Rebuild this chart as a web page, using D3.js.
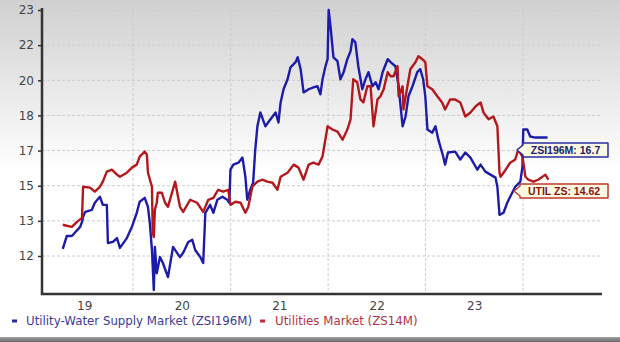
<!DOCTYPE html>
<html><head><meta charset="utf-8">
<script src="https://cdn.jsdelivr.net/npm/d3@7"></script>
<style>html,body{margin:0;padding:0;background:#fff;}svg{display:block;}</style>
</head><body>
<svg id="c" width="620" height="342"></svg>
<script>
const yTickValues = [12, 13, 15, 17, 18, 20, 22, 23];
const xTickYears = [2019, 2020, 2021, 2022, 2023];
const gridYears = [2020, 2021, 2022, 2023, 2024];
const seriesNames = ["Utility-Water Supply Market (ZSI196M)", "Utilities Market (ZS14M)"];
const callouts = ["ZSI196M: 16.7", "UTIL ZS: 14.62"];

const blueDates = ["2019-04-13","2019-04-28","2019-05-17","2019-05-28","2019-06-17","2019-06-24","2019-06-28","2019-07-06","2019-07-31","2019-08-11","2019-08-30","2019-09-10","2019-09-25","2019-09-29","2019-10-18","2019-11-02","2019-11-13","2019-12-09","2019-12-28","2020-01-15","2020-01-26","2020-02-14","2020-02-26","2020-03-04","2020-03-12","2020-03-19","2020-03-23","2020-03-30","2020-04-11","2020-04-22","2020-05-11","2020-05-30","2020-06-14","2020-06-25","2020-07-07","2020-07-26","2020-08-10","2020-08-21","2020-09-09","2020-09-20","2020-09-28","2020-10-16","2020-10-28","2020-11-12","2020-12-01","2020-12-19","2020-12-27","2020-12-31","2021-01-11","2021-01-30","2021-02-14","2021-02-25","2021-03-04","2021-03-15","2021-03-26","2021-04-03","2021-04-11","2021-04-22","2021-05-11","2021-05-30","2021-06-18","2021-06-29","2021-07-07","2021-07-18","2021-08-02","2021-08-13","2021-09-01","2021-09-09","2021-09-20","2021-10-01","2021-10-20","2021-11-07","2021-11-22","2021-12-03","2021-12-11","2021-12-22","2021-12-30","2022-01-03","2022-01-10","2022-01-21","2022-02-05","2022-02-16","2022-02-28","2022-03-14","2022-03-26","2022-04-02","2022-04-13","2022-04-24","2022-05-09","2022-05-21","2022-06-01","2022-06-16","2022-06-28","2022-07-09","2022-07-24","2022-08-12","2022-08-23","2022-09-10","2022-09-22","2022-10-07","2022-10-18","2022-10-29","2022-11-13","2022-12-01","2022-12-12","2022-12-23","2022-12-31","2023-01-08","2023-01-26","2023-02-07","2023-02-18","2023-03-08","2023-03-15","2023-03-26","2023-04-22","2023-05-11","2023-05-30","2023-06-18","2023-07-14","2023-07-26","2023-08-13","2023-09-01","2023-09-20","2023-09-27","2023-10-05","2023-10-20","2023-11-03","2023-11-14","2023-12-03","2023-12-22","2023-12-30","2024-01-02","2024-01-17","2024-01-28","2024-02-16","2024-04-02"];
const blueValues = [12.20,12.57,12.57,12.66,12.83,12.97,13.23,13.51,13.63,14.03,14.37,13.91,13.91,12.37,12.40,12.51,12.23,12.51,12.83,13.46,14.09,14.31,13.80,12.94,12.17,11.03,12.26,11.51,11.97,11.80,11.40,12.26,12.09,11.97,12.09,12.40,12.46,12.17,11.97,11.80,13.46,13.91,13.46,14.20,14.37,14.20,14.03,15.91,16.20,16.31,16.60,15.51,14.20,14.77,15.17,17.03,17.69,18.17,17.69,17.89,18.17,17.80,18.74,19.49,20.06,20.74,21.03,21.31,20.63,19.31,19.49,19.60,19.66,19.20,20.06,20.80,21.20,23.00,22.53,21.31,21.09,20.06,20.46,21.20,21.66,22.17,22.08,20.80,19.49,20.06,20.46,19.66,19.89,19.49,20.46,21.20,21.03,20.80,19.66,17.69,17.97,19.09,19.66,20.46,20.63,20.06,19.09,17.60,17.51,17.69,17.31,16.66,16.20,16.89,16.94,16.49,16.89,16.60,15.91,16.20,15.80,15.63,15.46,14.94,13.34,13.46,14.03,14.37,14.94,15.23,16.09,17.60,17.60,17.40,17.37,17.37];

const redDates = ["2019-04-13","2019-04-28","2019-05-17","2019-06-05","2019-06-24","2019-06-28","2019-07-24","2019-08-11","2019-08-30","2019-09-10","2019-09-25","2019-10-14","2019-11-02","2019-11-13","2019-12-09","2019-12-28","2020-01-15","2020-01-26","2020-02-14","2020-02-22","2020-02-26","2020-03-12","2020-03-15","2020-03-19","2020-03-23","2020-03-30","2020-04-03","2020-04-18","2020-04-30","2020-05-11","2020-06-07","2020-06-25","2020-07-07","2020-08-02","2020-08-28","2020-09-20","2020-10-09","2020-10-28","2020-11-15","2020-12-04","2020-12-23","2020-12-31","2021-01-19","2021-02-07","2021-02-25","2021-03-08","2021-03-23","2021-04-11","2021-04-29","2021-05-18","2021-06-07","2021-06-25","2021-07-07","2021-08-02","2021-08-25","2021-09-12","2021-10-01","2021-10-20","2021-11-07","2021-11-26","2021-12-11","2021-12-30","2022-01-17","2022-02-05","2022-02-24","2022-03-14","2022-03-26","2022-04-05","2022-04-20","2022-05-02","2022-05-13","2022-05-28","2022-06-09","2022-06-20","2022-07-05","2022-07-16","2022-07-28","2022-08-12","2022-08-23","2022-09-03","2022-09-18","2022-09-22","2022-10-07","2022-10-10","2022-10-25","2022-11-05","2022-11-24","2022-12-05","2022-12-20","2022-12-31","2023-01-08","2023-01-26","2023-02-14","2023-03-04","2023-03-15","2023-04-03","2023-04-22","2023-05-11","2023-05-30","2023-06-18","2023-07-07","2023-07-26","2023-08-06","2023-08-25","2023-09-12","2023-09-27","2023-10-05","2023-10-09","2023-10-28","2023-11-14","2023-12-03","2023-12-14","2023-12-30","2024-01-10","2024-01-21","2024-02-09","2024-02-27","2024-03-25","2024-04-05"];
const redValues = [12.89,12.86,12.83,12.97,13.17,14.94,14.89,14.66,14.94,15.23,15.80,15.91,15.63,15.51,15.74,16.03,16.20,16.66,16.94,16.77,15.74,14.94,12.66,12.54,13.63,14.03,14.60,14.60,14.03,13.80,15.23,13.80,13.51,14.20,14.03,13.51,14.20,14.31,14.77,14.66,14.77,13.91,14.09,14.03,13.46,13.80,14.94,15.23,15.34,15.23,15.17,14.77,15.51,15.74,16.20,16.03,15.34,16.20,16.31,16.20,16.66,17.69,17.60,17.54,17.31,17.60,17.89,20.06,19.89,18.91,18.74,19.66,19.66,17.69,18.91,19.09,19.49,20.46,20.23,20.23,20.80,19.09,19.66,18.34,19.66,20.63,21.03,21.37,21.20,21.03,19.66,19.49,19.09,18.74,18.34,18.91,18.91,18.74,17.97,18.17,18.51,18.74,18.17,17.89,17.97,17.69,15.74,15.51,15.91,16.31,16.49,17.03,16.66,15.51,15.34,15.23,15.34,15.63,15.34];

(function draw() {
const W = 620, H = 342;
const svg = d3.select("#c");
const parse = d3.timeParse("%Y-%m-%d");

const defs = svg.append("defs");
const bg = defs.append("linearGradient").attr("id","bg").attr("x1",0).attr("y1",0).attr("x2",0).attr("y2",1);
bg.append("stop").attr("offset","0%").attr("stop-color","#d0d0d0");
bg.append("stop").attr("offset","50%").attr("stop-color","#ffffff");
bg.append("stop").attr("offset","100%").attr("stop-color","#ffffff");
svg.append("rect").attr("width",W).attr("height",H).attr("fill","url(#bg)");
const bb = defs.append("linearGradient").attr("id","bb").attr("x1",0).attr("y1",0).attr("x2",0).attr("y2",1);
bb.append("stop").attr("offset","0%").attr("stop-color","#a0a0a0");
bb.append("stop").attr("offset","100%").attr("stop-color","#6a6a6a");
svg.append("rect").attr("x",0).attr("y",337).attr("width",W).attr("height",5).attr("fill","url(#bb)");

const pL = 42, pR = 602, pT = 8, pB = 294;
const x = d3.scaleTime().domain([new Date(2020,0,1), new Date(2024,0,1)]).range([133, 523]);
const y = d3.scaleLinear().domain(yTickValues).range(yTickValues.map((d,i) => 256 - i * (246/7)));

const grid = svg.append("g");
grid.selectAll("line.h").data(yTickValues).join("line").attr("class","h")
  .attr("x1", pL).attr("x2", pR).attr("y1", d => y(d)).attr("y2", d => y(d))
  .attr("stroke","#cccccc").attr("stroke-width",1).attr("stroke-dasharray","3,2");
grid.selectAll("line.v").data(gridYears).join("line").attr("class","v")
  .attr("x1", d => x(new Date(d,0,1))).attr("x2", d => x(new Date(d,0,1)))
  .attr("y1", pT).attr("y2", pB)
  .attr("stroke","#cccccc").attr("stroke-width",1).attr("stroke-dasharray","3,2");

const yAxis = svg.append("g").attr("transform",`translate(${pL},0)`)
  .call(d3.axisLeft(y).tickValues(yTickValues).tickSize(4).tickPadding(4).tickFormat(d3.format("d")));
yAxis.select(".domain").remove();
yAxis.selectAll(".tick line").attr("stroke","#333").attr("stroke-width",1.5);
yAxis.selectAll("text").attr("font-family","DejaVu Sans, Verdana, sans-serif").attr("font-size",12).attr("fill","#444");

const xAxis = svg.append("g").attr("transform",`translate(0,${pB})`)
  .call(d3.axisBottom(x).tickValues(xTickYears.map(yv => new Date(yv,6,2))).tickSize(0).tickPadding(7).tickFormat(d3.timeFormat("%y")));
xAxis.select(".domain").remove();
xAxis.selectAll("text").attr("font-family","DejaVu Sans, Verdana, sans-serif").attr("font-size",12).attr("fill","#444");

const line = d3.line().x(d => x(d[0])).y(d => y(d[1]));
const blueData = blueDates.map((d,i) => [parse(d), blueValues[i]]);
const redData = redDates.map((d,i) => [parse(d), redValues[i]]);
svg.append("path").datum(blueData).attr("d", line).attr("fill","none")
  .attr("stroke","#1c1ca8").attr("stroke-width",2.4).attr("stroke-linejoin","round");
svg.append("path").datum(redData).attr("d", line).attr("fill","none")
  .attr("stroke","#b3191c").attr("stroke-width",2.4).attr("stroke-linejoin","round");

svg.append("line").attr("x1",pL).attr("x2",pL).attr("y1",pT).attr("y2",pB+1)
  .attr("stroke","#333").attr("stroke-width",2.5);
svg.append("line").attr("x1",pL-1).attr("x2",pR).attr("y1",pB).attr("y2",pB)
  .attr("stroke","#333").attr("stroke-width",2.5);

function callout(cy, text, stroke, color, bx0) {
  const bx1 = 608, h = 14, tip = bx0 - 6;
  const g = svg.append("g");
  const p = d3.path();
  p.moveTo(tip, cy);
  p.lineTo(bx0, cy - 5);
  p.lineTo(bx0, cy - h/2);
  p.lineTo(bx1, cy - h/2);
  p.lineTo(bx1, cy + h/2);
  p.lineTo(bx0, cy + h/2);
  p.lineTo(bx0, cy + 5);
  p.closePath();
  g.append("path").attr("d", p.toString()).attr("fill","#fcf9e2").attr("stroke",stroke).attr("stroke-width",1.5).attr("stroke-linejoin","round");
  g.append("text").attr("x",(bx0+bx1)/2).attr("y",cy+3.8).attr("text-anchor","middle")
    .attr("font-family","Liberation Sans, Arial, sans-serif").attr("font-weight","bold").attr("font-size",10.5)
    .attr("fill",color).text(text);
}
callout(150, callouts[0], "#2b2ba6", "#20206e", 523);
callout(191, callouts[1], "#c0392b", "#8a1010", 520);

const lg = svg.append("g").attr("font-family","DejaVu Sans, Verdana, sans-serif").attr("font-size",11.8);
lg.append("rect").attr("x",12).attr("y",319.5).attr("width",5).attr("height",3).attr("fill","#2a2a9a");
const t1 = lg.append("text").attr("x",26).attr("y",325).attr("fill","#3c3c98").text(seriesNames[0]);
const w1 = t1.node().getComputedTextLength();
lg.append("rect").attr("x",26 + w1 + 8).attr("y",319.5).attr("width",5).attr("height",3).attr("fill","#c0283a");
lg.append("text").attr("x",26 + w1 + 23).attr("y",325).attr("fill","#b03448").text(seriesNames[1]);
})();
</script>
</body></html>
